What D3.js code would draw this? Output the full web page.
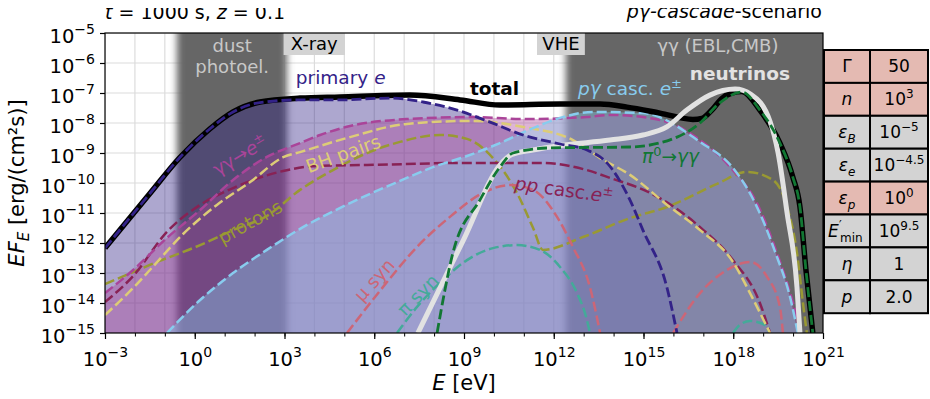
<!DOCTYPE html>
<html><head><meta charset="utf-8">
<script src="https://cdn.jsdelivr.net/npm/d3@7"></script>
<style>body{margin:0;background:#fff;} text{font-family:"DejaVu Sans",sans-serif;}</style>
</head><body><svg id="c" width="930" height="399"></svg>
<script>
// ---------- data (log10 E [eV], log10 EF_E [erg/(cm^2 s)]) ----------
const totalLogE   = [-3.00,-1.50,-0.50,0.50,1.28,2.18,3.52,4.85,7.19,8.87,10.20,12.21,13.55,14.45,15.55,16.65,16.95,17.30,17.60,17.95,18.29,18.89,19.56,19.99,20.23,20.43,20.66];
const totalLogF   = [-12.17,-10.35,-9.15,-8.20,-7.63,-7.30,-7.17,-7.13,-7.07,-7.23,-7.40,-7.37,-7.37,-7.47,-7.67,-7.88,-7.85,-7.55,-7.20,-7.00,-6.95,-7.57,-8.67,-9.80,-10.80,-12.90,-15.00];
const primaryLogE = [-3.00,-1.50,-0.50,0.50,1.28,2.18,3.52,4.85,6.53,7.63,8.77,9.87,10.97,12.21,13.11,13.78,14.55,14.98,15.78,16.12];
const primaryLogF = [-12.17,-10.35,-9.15,-8.20,-7.63,-7.32,-7.23,-7.23,-7.17,-7.30,-7.57,-7.97,-8.40,-8.70,-8.90,-9.33,-10.57,-11.57,-13.47,-15.00];
const ggLogE      = [-3.00,-2.06,-0.93,0.18,1.28,2.41,3.52,4.19,5.19,7.09,9.30,10.97,13.11,13.88,15.55,16.89,17.99,18.79,19.46,20.00,20.26];
const ggLogF      = [-13.67,-12.90,-11.83,-10.90,-9.90,-9.13,-8.67,-8.40,-8.10,-7.87,-7.80,-7.87,-7.80,-7.73,-7.90,-8.57,-9.57,-10.67,-12.33,-14.00,-15.00];
const pgLogE      = [-0.93,0.18,1.28,2.41,3.52,5.19,6.86,7.96,9.10,10.20,11.31,12.21,13.31,14.98,16.89,17.99,18.73,19.39,19.93,20.16];
const pgLogF      = [-15.00,-13.90,-13.00,-12.23,-11.53,-10.67,-9.93,-9.47,-9.10,-8.67,-8.17,-7.83,-7.63,-7.67,-8.63,-9.50,-10.67,-12.27,-13.93,-15.00];
const bhLogE      = [-3.00,-2.06,-1.50,-0.39,0.74,1.85,2.98,3.52,5.19,7.09,9.30,10.97,12.64,13.55,14.55,15.79,16.89,17.99,18.56,19.13,19.23];
const bhLogF      = [-14.40,-13.50,-12.90,-11.70,-10.73,-9.97,-9.13,-8.97,-8.47,-8.03,-7.93,-8.13,-8.57,-9.17,-9.73,-10.73,-11.57,-12.63,-13.67,-14.80,-15.00];
const ppLogE      = [-3.00,-2.06,-0.93,0.18,1.28,2.95,4.09,5.76,9.10,11.54,13.11,13.88,15.22,16.89,17.99,18.89,19.23];
const ppLogF      = [-13.97,-13.10,-11.63,-10.73,-10.17,-9.60,-9.43,-9.40,-9.33,-9.33,-9.57,-9.83,-10.33,-11.47,-12.57,-14.00,-15.00];
const protonLogE  = [-3.00,-2.06,-1.50,0.18,1.28,2.41,3.52,4.62,5.76,6.86,8.20,9.10,9.97,10.77,11.31,11.64,12.98,14.55,15.79,17.46,18.46,19.33,19.80,20.13,20.33,20.46];
const protonLogF  = [-13.37,-12.97,-12.73,-12.07,-11.57,-11.10,-10.23,-9.57,-9.00,-8.63,-8.40,-8.53,-9.17,-10.33,-11.50,-12.23,-11.80,-11.17,-10.80,-10.03,-9.63,-9.90,-10.80,-12.33,-14.00,-15.00];
const nuLogE      = [7.46,9.00,10.20,10.60,11.30,12.21,13.88,14.98,15.78,16.45,17.22,18.06,18.60,19.23,19.50,19.80,20.13,20.23];
const nuLogF      = [-15.00,-11.86,-9.40,-9.05,-8.90,-8.75,-8.57,-8.40,-8.13,-7.57,-7.07,-6.87,-7.05,-7.95,-9.00,-11.00,-13.47,-15.00];
const pi0LogE     = [8.10,8.63,9.53,10.20,10.64,11.87,14.55,16.12,16.89,17.55,18.29,18.89,19.56,19.99,20.23,20.43,20.66];
const pi0LogF     = [-15.00,-12.33,-10.57,-9.47,-9.00,-8.83,-8.80,-8.47,-8.00,-7.33,-6.97,-7.57,-8.67,-9.80,-10.80,-12.90,-15.00];
const muLogE      = [5.09,6.29,7.43,8.53,9.63,10.54,11.31,12.11,12.64,13.21,13.55];
const muLogF      = [-15.00,-13.47,-12.13,-11.13,-10.33,-10.07,-10.23,-11.13,-12.13,-13.47,-15.00];
const mu2LogE     = [15.99,16.89,17.79,18.56,19.13,19.56,19.66];
const mu2LogF     = [-15.00,-13.67,-12.90,-12.63,-13.13,-14.13,-15.00];
const piLogE      = [6.76,7.43,8.30,9.10,9.97,10.77,11.54,12.21,12.78,13.11,13.21];
const piLogF      = [-15.00,-14.13,-13.23,-12.57,-12.17,-12.07,-12.23,-12.80,-13.67,-14.57,-15.00];
const pi2LogE     = [17.99,18.22,18.56,19.00,19.23];
const pi2LogF     = [-15.00,-14.73,-14.60,-14.70,-15.00];
const dustBand    = [-0.60, 3.08];
const ggBand      = [12.40, 21.5];
const xMajorExp   = [-3,0,3,6,9,12,15,18,21];
const yMajorExp   = [-15,-14,-13,-12,-11,-10,-9,-8,-7,-6,-5];
const tableParams = ["Γ","n","ε_B","ε_e","ε_p","E'_min","η","p"];
const tableValues = ["50","10^3","10^−5","10^−4.5","10^0","10^9.5","1","2.0"];
const tableFixed  = [1,1,0,0,1,0,0,0];

// ---------- setup ----------
const svg = d3.select("#c");
const L=105,R=823,T=33,B=333;
const x = d3.scaleLog().domain([1e-3,1e21]).range([L,R]);
const y = d3.scaleLog().domain([1e-15,1e-5]).range([B,T]);
const p10 = v=>Math.pow(10,v);
const pts = (E,F)=>E.map((e,i)=>[p10(e),p10(F[i])]);
const line = d3.line().x(d=>x(d[0])).y(d=>y(d[1])).curve(d3.curveMonotoneX);
const area = d3.area().x(d=>x(d[0])).y0(y(1e-15)).y1(d=>y(d[1])).curve(d3.curveMonotoneX);

const defs = svg.append("defs");
defs.append("clipPath").attr("id","plotclip").append("rect").attr("x",L).attr("y",T).attr("width",R-L).attr("height",B-T);
defs.append("clipPath").attr("id","titleclip").append("rect").attr("x",0).attr("y",8).attr("width",930).attr("height",30);
defs.append("filter").attr("id","blurx").attr("x","-20%").attr("width","140%")
  .append("feGaussianBlur").attr("stdDeviation","3.5 0");

const plot = svg.append("g").attr("clip-path","url(#plotclip)");

// grid
const decE = d3.range(-3,22);
plot.selectAll(".gx").data(decE).join("line").attr("x1",d=>x(p10(d))).attr("x2",d=>x(p10(d)))
  .attr("y1",T).attr("y2",B).attr("stroke","#dcdcdc").attr("stroke-width",1.2);
plot.selectAll(".gy").data(yMajorExp).join("line").attr("y1",d=>y(p10(d))).attr("y2",d=>y(p10(d)))
  .attr("x1",L).attr("x2",R).attr("stroke","#dcdcdc").attr("stroke-width",1.2);

// bands
[dustBand, ggBand].forEach(b=>{
  plot.append("rect").attr("x",x(p10(b[0]))).attr("width",x(p10(b[1]))-x(p10(b[0])))
    .attr("y",T-20).attr("height",B-T+40).attr("fill","#666666").attr("filter","url(#blurx)");
});

// fills
plot.append("path").datum(pts(primaryLogE,primaryLogF)).attr("d",area).attr("fill","#332288").attr("fill-opacity",0.4);
plot.append("path").datum(pts(ggLogE,ggLogF)).attr("d",area).attr("fill","#AA4499").attr("fill-opacity",0.4);
plot.append("path").datum(pts(pgLogE,pgLogF)).attr("d",area).attr("fill","#88CCEE").attr("fill-opacity",0.4);

// band texts
const bandTxt = plot.append("g").attr("fill","#c8c8c8").attr("font-size",18).attr("text-anchor","middle");
bandTxt.append("text").attr("x",x(p10(1.25))).attr("y",y(p10(-5.63))).text("dust");
bandTxt.append("text").attr("x",x(p10(1.25))).attr("y",y(p10(-6.33))).text("photoel.");
bandTxt.append("text").attr("x",x(p10(17.49))).attr("y",y(p10(-5.63))).text("γγ (EBL,CMB)");

// label boxes
function boxLabel(e0,e1,txt){
  plot.append("rect").attr("x",x(p10(e0))).attr("width",x(p10(e1))-x(p10(e0))).attr("y",T).attr("height",22).attr("fill","#d3d3d3");
  plot.append("text").attr("x",(x(p10(e0))+x(p10(e1)))/2).attr("y",T+17).attr("text-anchor","middle").attr("font-size",18).attr("fill","#000").text(txt);
}
boxLabel(2.97,5.02,"X-ray");
boxLabel(11.44,13.04,"VHE");

// lines
const dash = "10,4";
function dl(E,F,col,w){ plot.append("path").datum(pts(E,F)).attr("d",line).attr("fill","none").attr("stroke",col).attr("stroke-width",w).attr("stroke-dasharray",dash); }
dl(protonLogE,protonLogF,"#999933",2.5);
dl(muLogE,muLogF,"#CC6677",2.5);
dl(mu2LogE,mu2LogF,"#CC6677",2.5);
dl(piLogE,piLogF,"#44AA99",2.5);
dl(pi2LogE,pi2LogF,"#44AA99",2.5);
dl(ppLogE,ppLogF,"#882255",2.5);
dl(bhLogE,bhLogF,"#DDCC77",2.5);
dl(ggLogE,ggLogF,"#AA4499",2.5);
dl(pgLogE,pgLogF,"#88CCEE",2.5);
plot.append("path").datum(pts(totalLogE,totalLogF)).attr("d",line).attr("fill","none").attr("stroke","#000").attr("stroke-width",5.5);
plot.append("path").datum(pts(nuLogE,nuLogF)).attr("d",line).attr("fill","none").attr("stroke","#e2e2e2").attr("stroke-width",5);
dl(primaryLogE,primaryLogF,"#332288",2.8);
dl(pi0LogE,pi0LogF,"#117733",2.8);

// plot labels
const lab = svg.append("g").attr("font-size",18.5);
function tx(e,f,fill,parts,opts={}){
  const t = lab.append("text").attr("fill",fill);
  if(opts.rot!==undefined){
    t.attr("text-anchor","middle").attr("dy","0.35em").attr("transform",`translate(${x(p10(e))},${y(p10(f))}) rotate(${opts.rot})`);
  } else { t.attr("x",x(p10(e))).attr("y",y(p10(f))); }
  if(opts.bold) t.attr("font-weight","bold");
  parts.forEach(p=>{
    const s=t.append("tspan").text(p[0]);
    const f=p[1]||"";
    if(f.includes("i")) s.attr("font-style","italic");
    if(f.includes("^")) s.attr("font-size",13).attr("dy",-7);
    if(f.includes("b")) s.attr("dy",7);
  });
  return t;
}
tx(3.38,-6.70,"#332288",[["primary "],["e","i"]]);
tx(9.20,-7.07,"#000",[["total"]],{bold:true});
tx(12.81,-7.07,"#88CCEE",[["pγ","i"],[" casc. "],["e","i"],["±","^"]]);
tx(16.55,-6.57,"#e2e2e2",[["neutrinos"]],{bold:true});
tx(14.95,-9.33,"#117733",[["π","i"],["0","^"],["→","b"],["γγ","i"]]);
tx(1.51,-9.07,"#AA4499",[["γγ→"],["e","i"],["±","^"]],{rot:-31});
tx(4.96,-9.03,"#DDCC77",[["BH pairs"]],{rot:-20});
tx(1.85,-11.30,"#999933",[["protons"]],{rot:-29});
tx(12.34,-10.23,"#882255",[["pp","i"],[" casc."],["e","i"],["±","^"]],{rot:8});
tx(6.00,-13.23,"#CC6677",[["μ syn"]],{rot:-48});
tx(7.46,-13.73,"#44AA99",[["π syn"]],{rot:-45});

// frame
svg.append("rect").attr("x",L).attr("y",T).attr("width",R-L).attr("height",B-T).attr("fill","none").attr("stroke","#000").attr("stroke-width",1.2);

// axes
function expLabel(sel,e){
  sel.text(null);
  sel.append("tspan").text("10");
  sel.append("tspan").attr("dy",-9).attr("font-size",14).text(String(e).replace("-","−"));
}
const gy = svg.append("g").attr("transform",`translate(${L},0)`)
  .call(d3.axisLeft(y).tickValues(yMajorExp.map(p10)).tickSize(5).tickPadding(5));
gy.select(".domain").remove();
gy.selectAll(".tick line").attr("stroke","#000").attr("stroke-width",1.2);
gy.selectAll(".tick text").attr("font-size",19.5).attr("font-family","DejaVu Sans").attr("fill","#000").attr("dy","0.5em")
  .each(function(d){ expLabel(d3.select(this), Math.round(Math.log10(d))); });

const gxm = svg.append("g").attr("transform",`translate(0,${B})`)
  .call(d3.axisBottom(x).tickValues(decE.map(p10)).tickSize(3.5).tickFormat(""));
gxm.select(".domain").remove();
gxm.selectAll(".tick line").attr("stroke","#000").attr("stroke-width",1);
const gx = svg.append("g").attr("transform",`translate(0,${B})`)
  .call(d3.axisBottom(x).tickValues(xMajorExp.map(p10)).tickSize(6).tickPadding(6));
gx.select(".domain").remove();
gx.selectAll(".tick line").attr("stroke","#000").attr("stroke-width",1.2);
gx.selectAll(".tick text").attr("font-size",19.5).attr("font-family","DejaVu Sans").attr("fill","#000").attr("dy","1.1em")
  .each(function(d){ expLabel(d3.select(this), Math.round(Math.log10(d))); });

// axis titles
const yl = svg.append("text").attr("transform","translate(24,183) rotate(-90)").attr("text-anchor","middle").attr("font-size",21);
yl.append("tspan").attr("font-style","italic").text("EF");
yl.append("tspan").attr("font-style","italic").attr("font-size",15).attr("dy",5).text("E");
yl.append("tspan").attr("dy",-5).text(" [erg/(cm²s)]");
const xl = svg.append("text").attr("x",464).attr("y",390).attr("text-anchor","middle").attr("font-size",21);
xl.append("tspan").attr("font-style","italic").text("E");
xl.append("tspan").text(" [eV]");

// titles
const tg = svg.append("g").attr("clip-path","url(#titleclip)").attr("font-size",19);
const t1 = tg.append("text").attr("x",L).attr("y",19);
t1.append("tspan").attr("font-style","italic").text("t");
t1.append("tspan").text(" = 1000 s, ");
t1.append("tspan").attr("font-style","italic").text("z");
t1.append("tspan").text(" = 0.1");
const t2 = tg.append("text").attr("x",R-1).attr("y",18).attr("text-anchor","end");
t2.append("tspan").attr("font-style","italic").text("pγ-cascade");
t2.append("tspan").text("-scenario");

// table
const tx0=824, tx1=870, tx2=928, ty0=50, rh=32.9;
const tbl = svg.append("g");
tableParams.forEach((p,i)=>{
  const yy = ty0 + i*rh;
  const cy = yy+rh/2+6;
  const fill = tableFixed[i] ? "#e4bab2" : "#d3d3d3";
  tbl.append("rect").attr("x",tx0).attr("y",yy).attr("width",tx1-tx0).attr("height",rh).attr("fill",fill).attr("stroke","#000").attr("stroke-width",2);
  tbl.append("rect").attr("x",tx1).attr("y",yy).attr("width",tx2-tx1).attr("height",rh).attr("fill",fill).attr("stroke","#000").attr("stroke-width",2);
  let base=p, sub=null, prime=false;
  if(p.includes("_")){ [base,sub]=p.split("_"); }
  if(base.endsWith("'")){ prime=true; base=base.slice(0,-1); }
  if(prime){
    tbl.append("text").attr("x",tx0+4).attr("y",cy).attr("font-size",17).attr("font-style","italic").text(base);
    tbl.append("text").attr("x",tx0+15).attr("y",cy-8).attr("font-size",12).text("′");
    tbl.append("text").attr("x",tx0+16).attr("y",cy+5).attr("font-size",12).text(sub);
  } else {
    const t = tbl.append("text").attr("x",(tx0+tx1)/2).attr("y",cy).attr("text-anchor","middle").attr("font-size",17);
    t.append("tspan").attr("font-style", base==="Γ"?"normal":"italic").text(base);
    if(sub) t.append("tspan").attr("font-size",12).attr("dy",5).attr("font-style","italic").text(sub);
  }
  const v = tbl.append("text").attr("x",(tx1+tx2)/2).attr("y",cy).attr("text-anchor","middle").attr("font-size",17);
  const val = tableValues[i];
  if(val.includes("^")){
    const [b,e]=val.split("^");
    v.append("tspan").text(b);
    v.append("tspan").attr("font-size",12).attr("dy",-7).text(e);
  } else v.text(val);
});
</script></body></html>
